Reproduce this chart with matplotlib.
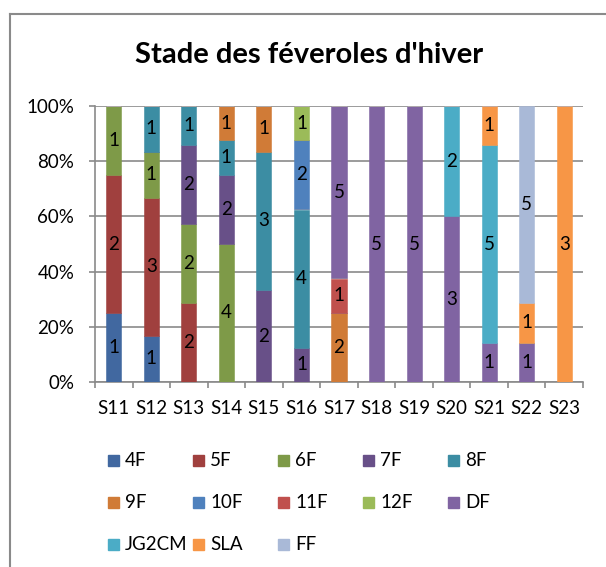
'''
Stacked 100% bar chart of the winter faba bean stages
per week, with the count of each stage in its segment.
'''

from matplotlib import pyplot as plt
from matplotlib.lines import Line2D
from matplotlib.patches import Rectangle
import numpy as np

plt.rcParams['font.family'] = ['Lato', 'DejaVu Sans']

# Weeks on the x axis
weeks = ["S11", "S12", "S13", "S14", "S15", "S16", "S17",
         "S18", "S19", "S20", "S21", "S22", "S23"]

# Number of observations for each stage, one value per week
stage_4f = [1, 1, 0, 0, 0, 0, 0, 0, 0, 0, 0, 0, 0]
stage_5f = [2, 3, 2, 0, 0, 0, 0, 0, 0, 0, 0, 0, 0]
stage_6f = [1, 1, 2, 4, 0, 0, 0, 0, 0, 0, 0, 0, 0]
stage_7f = [0, 0, 2, 2, 2, 1, 0, 0, 0, 0, 0, 0, 0]
stage_8f = [0, 1, 1, 1, 3, 4, 0, 0, 0, 0, 0, 0, 0]
stage_9f = [0, 0, 0, 1, 1, 0, 2, 0, 0, 0, 0, 0, 0]
stage_10f = [0, 0, 0, 0, 0, 2, 0, 0, 0, 0, 0, 0, 0]
stage_11f = [0, 0, 0, 0, 0, 0, 1, 0, 0, 0, 0, 0, 0]
stage_12f = [0, 0, 0, 0, 0, 1, 0, 0, 0, 0, 0, 0, 0]
stage_df = [0, 0, 0, 0, 0, 0, 5, 5, 5, 3, 1, 1, 0]
stage_jg2cm = [0, 0, 0, 0, 0, 0, 0, 0, 0, 2, 5, 0, 0]
stage_sla = [0, 0, 0, 0, 0, 0, 0, 0, 0, 0, 1, 1, 3]
stage_ff = [0, 0, 0, 0, 0, 0, 0, 0, 0, 0, 0, 5, 0]

stage_names = ["4F", "5F", "6F", "7F", "8F", "9F", "10F", "11F",
               "12F", "DF", "JG2CM", "SLA", "FF"]
stage_counts = [stage_4f, stage_5f, stage_6f, stage_7f, stage_8f,
                stage_9f, stage_10f, stage_11f, stage_12f, stage_df,
                stage_jg2cm, stage_sla, stage_ff]

colors = ["#4168a0", "#a0403e", "#7e9a48", "#685088", "#3c8da3",
          "#d07b37", "#4f81bd", "#c0504d", "#9bbb59", "#8064a2",
          "#4bacc6", "#f79646", "#a9b9d7"]

W, H = 606, 567
fig = plt.figure(figsize=(W / 100, H / 100), dpi=100)
ax = fig.add_axes([95 / W, 1 - 382 / H, 488 / W, 276 / H])

# Percentages of each stage per week
counts = np.array(stage_counts, dtype=float)
totals = counts.sum(axis=0)
percents = counts / totals * 100

fs = 13.5
x = np.arange(len(weeks))
bottom = np.zeros(len(weeks))
for name, pct, cnt, col in zip(stage_names, percents, counts, colors):
    # edge in the same colour so no seam shows between segments
    ax.bar(x, pct, 0.4, bottom=bottom, color=col, edgecolor=col,
           linewidth=0.4, zorder=3)
    for i in range(len(weeks)):
        if cnt[i] > 0:
            ax.text(x[i], bottom[i] + pct[i] / 2, str(int(cnt[i])),
                    ha='center', va='center', fontsize=fs,
                    color='black', zorder=4)
    bottom = bottom + pct

# Axis settings
grey = "#8a8a8a"
ax.set_xlim(-0.5, len(weeks) - 0.5)
ax.set_ylim(0, 100)
ax.set_yticks(range(0, 101, 20))
ax.set_yticklabels([str(v) + "%" for v in range(0, 101, 20)])
ax.set_xticks(x)
ax.set_xticklabels(weeks)
ax.set_xticks(np.arange(-0.5, len(weeks), 1), minor=True)
ax.tick_params(axis='x', which='major', length=0, pad=13,
               labelsize=fs)
ax.tick_params(axis='x', which='minor', length=4, width=1.2,
               color=grey)
ax.tick_params(axis='y', length=4, width=1.2, color=grey, pad=11,
               labelsize=fs)
ax.grid(axis='y', color=grey, linewidth=1.2, zorder=0)
for side in ['top', 'right']:
    ax.spines[side].set_visible(False)
for side in ['left', 'bottom']:
    ax.spines[side].set_color(grey)
    ax.spines[side].set_linewidth(1.2)

# Title
fig.text(309 / W, 1 - 63 / H, "Stade des féveroles d'hiver",
         ha='center', va='baseline', fontsize=21, fontweight='bold')

# Legend, drawn entry by entry (5 per row)
for k, (name, col) in enumerate(zip(stage_names, colors)):
    row, column = divmod(k, 5)
    px = 108 + 85 * column
    py = 460 + 42 * row
    fig.patches.append(Rectangle((px / W, 1 - (py + 5.5) / H),
                                 11 / W, 11 / H, color=col,
                                 transform=fig.transFigure))
    fig.text((px + 17) / W, 1 - py / H, name, ha='left',
             va='center', fontsize=fs)

# Outer frame of the chart
fig.lines.append(Line2D([9.5 / W, 9.5 / W], [0, 1 - 14 / H],
                        color=grey, linewidth=1.5,
                        transform=fig.transFigure))
fig.lines.append(Line2D([9.5 / W, 1], [1 - 14 / H, 1 - 14 / H],
                        color=grey, linewidth=1.5,
                        transform=fig.transFigure))

fig.savefig("out.png", dpi=100, facecolor='white')
